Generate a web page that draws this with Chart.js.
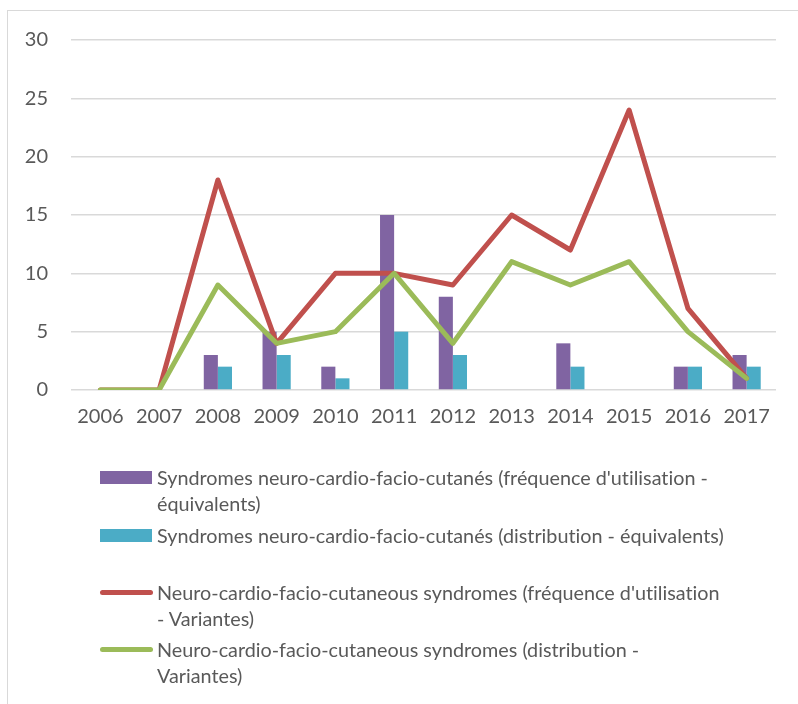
<!DOCTYPE html>
<html>
<head>
<meta charset="utf-8">
<script src="https://cdn.jsdelivr.net/npm/chart.js@4/dist/chart.umd.min.js"></script>
<style>
  html, body { margin: 0; padding: 0; background: #fff; overflow: hidden; }
  body { width: 798px; height: 704px; position: relative; font-family: Lato, "Open Sans", sans-serif; }
  #frame { position: absolute; left: 7px; top: 10px; width: 820px; height: 720px; border: 1px solid #d9d9d9; box-sizing: border-box; }
  #wrap { position: absolute; left: 0; top: 0; width: 798px; height: 440px; }
  #legend { position: absolute; left: 0; top: 0; width: 798px; height: 704px; pointer-events: none; }
  .item { position: absolute; left: 100px; }
  .sw { position: absolute; left: 0; }
  .box { width: 52px; height: 13px; }
  .ln { width: 53px; height: 5px; border-radius: 3px; }
  .txt { position: absolute; left: 57px; white-space: nowrap; font-size: 19.8px; line-height: 26px; color: #595959; font-variant-ligatures: none; }
</style>
</head>
<body>
<div id="frame"></div>
<div id="wrap"><canvas id="c" width="798" height="440"></canvas></div>
<div id="legend"></div>
<script>
const years = ['2006','2007','2008','2009','2010','2011','2012','2013','2014','2015','2016','2017'];
const freqEquivalents = [0,0,3,5,2,15,8,0,4,0,2,3];
const distEquivalents = [0,0,2,3,1,5,3,0,2,0,2,2];
const freqVariantes = [0,0,18,4,10,10,9,15,12,24,7,1];
const distVariantes = [0,0,9,4,5,10,4,11,9,11,5,1];
const yTicks = [0,5,10,15,20,25,30];

const seriesLabels = [
  ["Syndromes neuro-cardio-facio-cutanés (fréquence d'utilisation -", "équivalents)"],
  ["Syndromes neuro-cardio-facio-cutanés (distribution - équivalents)"],
  ["Neuro-cardio-facio-cutaneous syndromes (fréquence d'utilisation", "- Variantes)"],
  ["Neuro-cardio-facio-cutaneous syndromes (distribution -", "Variantes)"]
];
const colors = ['#8064a2', '#4bacc6', '#c0504d', '#9bbb59'];

new Chart(document.getElementById('c'), {
  type: 'bar',
  data: {
    labels: years,
    datasets: [
      { type: 'bar', label: seriesLabels[0].join(' '), data: freqEquivalents, backgroundColor: colors[0], borderWidth: 0, order: 2, barPercentage: 1.0, categoryPercentage: 0.48 },
      { type: 'bar', label: seriesLabels[1].join(' '), data: distEquivalents, backgroundColor: colors[1], borderWidth: 0, order: 3, barPercentage: 1.0, categoryPercentage: 0.48 },
      { type: 'line', label: seriesLabels[2].join(' '), data: freqVariantes, borderColor: colors[2], backgroundColor: colors[2], borderWidth: 5, pointRadius: 0, tension: 0, borderCapStyle: 'round', borderJoinStyle: 'round', order: 1 },
      { type: 'line', label: seriesLabels[3].join(' '), data: distVariantes, borderColor: colors[3], backgroundColor: colors[3], borderWidth: 5, pointRadius: 0, tension: 0, borderCapStyle: 'round', borderJoinStyle: 'round', order: 0 }
    ]
  },
  options: {
    responsive: false,
    animation: false,
    layout: { padding: { left: 0, right: 22, top: 40, bottom: 0 } },
    plugins: { legend: { display: false }, tooltip: { enabled: false } },
    scales: {
      x: {
        grid: { display: false, drawTicks: false },
        border: { display: false },
        ticks: { color: '#595959', font: { family: 'Lato', size: 20 }, padding: 15, maxRotation: 0, autoSkip: false },
        afterFit: s => { s.height = 50; }
      },
      y: {
        min: 0, max: 30,
        afterBuildTicks: s => { s.ticks = yTicks.map(v => ({ value: v })); },
        grid: { color: '#d9d9d9', lineWidth: 1.5, drawTicks: false },
        border: { display: false },
        ticks: { color: '#595959', font: { family: 'Lato', size: 20 }, padding: 23 },
        afterFit: s => { s.width = 71; }
      }
    }
  }
});

// HTML legend (text wrapped as in the reference)
const legend = document.getElementById('legend');
const tops = [464, 522, 579, 636];
seriesLabels.forEach((lines, i) => {
  const it = document.createElement('div');
  it.className = 'item';
  it.style.top = tops[i] + 'px';
  const sw = document.createElement('div');
  sw.className = 'sw ' + (i < 2 ? 'box' : 'ln');
  sw.style.background = colors[i];
  sw.style.top = (i < 2 ? 13 - 6.5 : 13 - 2.5) + 'px';
  const tx = document.createElement('div');
  tx.className = 'txt';
  lines.forEach((l, k) => {
    if (k) tx.appendChild(document.createElement('br'));
    tx.appendChild(document.createTextNode(l));
  });
  it.appendChild(sw);
  it.appendChild(tx);
  legend.appendChild(it);
});
</script>
</body>
</html>
